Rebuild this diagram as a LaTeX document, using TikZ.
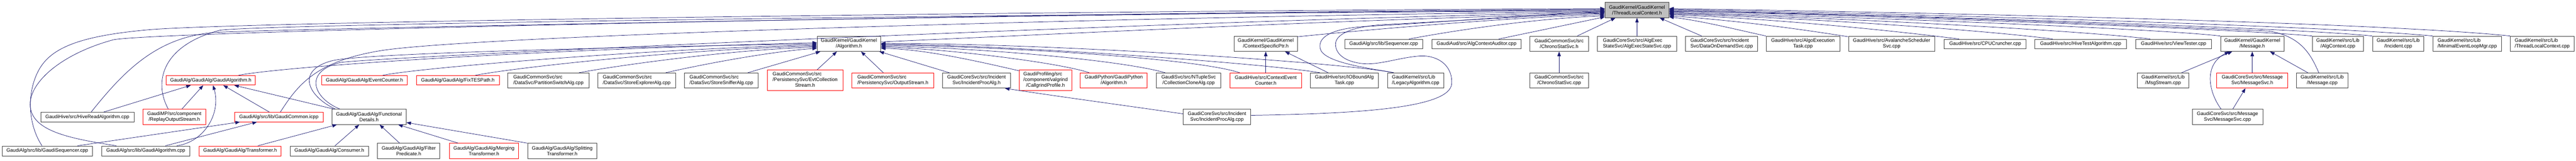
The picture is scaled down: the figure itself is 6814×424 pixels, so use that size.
\documentclass[tikz,border=0pt]{standalone}
\usepackage{fontspec}
\setmainfont{Liberation Sans}
\usetikzlibrary{arrows.meta}
\definecolor{edgecol}{HTML}{191970}
\definecolor{bordgray}{HTML}{404040}
\definecolor{rootfill}{HTML}{BFBFBF}
\definecolor{redb}{HTML}{FF0000}
\newcommand{\gfont}{\fontsize{13}{15}\selectfont}
\newcommand{\gnode}[7]{\node[#6, minimum width={(#4-#2)*1pt}, minimum height={(#5-#3)*1pt}, anchor=north west] (#1) at (#2,#3) {#7};}
\tikzset{
  gbox/.style={draw=bordgray, line width=1.2pt, fill=white, inner sep=0pt, font=\gfont, align=center},
  rbox/.style={gbox, draw=redb},
  lbox/.style={gbox, align=left},
  rlbox/.style={rbox, align=left},
  rootbox/.style={gbox, fill=rootfill},
  dep/.style={draw=edgecol, line width=1pt, -{Triangle[length=12pt,width=9pt]}},
}
\begin{document}
\begin{tikzpicture}[x=1pt,y=-1pt]
\useasboundingbox (0,0) rectangle (6814,424);
% root
\gnode{tlc}{4245}{6}{4414}{46}{rootbox}{GaudiKernel/GaudiKernel\\/ThreadLocalContext.h}
% row B
\gnode{algh}{2161}{95}{2329}{135}{gbox}{GaudiKernel/GaudiKernel\\/Algorithm.h}
\gnode{csp}{3264}{95}{3431}{135}{gbox}{GaudiKernel/GaudiKernel\\/ContextSpecificPtr.h}
\gnode{seq}{3557}{103}{3762}{128}{gbox}{GaudiAlg/src/lib/Sequencer.cpp}
\gnode{aca}{3787}{103}{4023}{128}{gbox}{GaudiAud/src/AlgContextAuditor.cpp}
\gnode{csvch}{4046}{95}{4201}{135}{gbox}{GaudiCommonSvc/src\\/ChronoStatSvc.h}
\gnode{aes}{4225}{95}{4434}{135}{lbox}{GaudiCoreSvc/src/AlgExec\\StateSvc/AlgExecStateSvc.cpp}
\gnode{dod}{4458}{95}{4649}{135}{lbox}{GaudiCoreSvc/src/Incident\\Svc/DataOnDemandSvc.cpp}
\gnode{aet}{4671}{95}{4866}{135}{gbox}{GaudiHive/src/AlgoExecution\\Task.cpp}
\gnode{avs}{4889}{95}{5117}{135}{gbox}{GaudiHive/src/AvalancheScheduler\\Svc.cpp}
\gnode{cpu}{5142}{103}{5359}{128}{gbox}{GaudiHive/src/CPUCruncher.cpp}
\gnode{hta}{5382}{103}{5624}{128}{gbox}{GaudiHive/src/HiveTestAlgorithm.cpp}
\gnode{vt}{5649}{103}{5849}{128}{gbox}{GaudiHive/src/ViewTester.cpp}
\gnode{msgh}{5873}{95}{6041}{135}{gbox}{GaudiKernel/GaudiKernel\\/Message.h}
\gnode{actx}{6116}{95}{6251}{135}{gbox}{GaudiKernel/src/Lib\\/AlgContext.cpp}
\gnode{inc}{6275}{95}{6411}{135}{gbox}{GaudiKernel/src/Lib\\/Incident.cpp}
\gnode{mel}{6435}{95}{6616}{135}{lbox}{GaudiKernel/src/Lib\\/MinimalEventLoopMgr.cpp}
\gnode{tlccpp}{6640}{95}{6808}{135}{lbox}{GaudiKernel/src/Lib\\/ThreadLocalContext.cpp}
% row C
\gnode{gah}{439}{199}{675}{224}{rbox}{GaudiAlg/GaudiAlg/GaudiAlgorithm.h}
\gnode{evc}{850}{199}{1077}{224}{rbox}{GaudiAlg/GaudiAlg/EventCounter.h}
\gnode{fix}{1101}{199}{1320}{224}{rbox}{GaudiAlg/GaudiAlg/FixTESPath.h}
\gnode{psw}{1343}{192}{1557}{232}{lbox}{GaudiCommonSvc/src\\/DataSvc/PartitionSwitchAlg.cpp}
\gnode{sexp}{1581}{192}{1786}{232}{lbox}{GaudiCommonSvc/src\\/DataSvc/StoreExplorerAlg.cpp}
\gnode{ssnf}{1810}{192}{2005}{232}{lbox}{GaudiCommonSvc/src\\/DataSvc/StoreSnifferAlg.cpp}
\gnode{ecs}{2029}{184}{2229}{239}{rbox}{\begin{tabular}{@{}l@{}}GaudiCommonSvc/src\\/PersistencySvc/EvtCollection\\\multicolumn{1}{@{}c@{}}{Stream.h}\end{tabular}}
\gnode{ops}{2253}{192}{2469}{232}{rlbox}{GaudiCommonSvc/src\\/PersistencySvc/OutputStream.h}
\gnode{ipah}{2493}{192}{2672}{232}{gbox}{GaudiCoreSvc/src/Incident\\Svc/IncidentProcAlg.h}
\gnode{cgp}{2696}{184}{2834}{239}{rbox}{\begin{tabular}{@{}l@{}}GaudiProfiling/src\\/component/valgrind\\\multicolumn{1}{@{}c@{}}{/CallgrindProfile.h}\end{tabular}}
\gnode{gpa}{2857}{192}{3034}{232}{rbox}{GaudiPython/GaudiPython\\/Algorithm.h}
\gnode{ccl}{3058}{192}{3229}{232}{gbox}{GaudiSvc/src/NTupleSvc\\/CollectionCloneAlg.cpp}
\gnode{cec}{3253}{192}{3442}{232}{rbox}{GaudiHive/src/ContextEvent\\Counter.h}
\gnode{iob}{3466}{192}{3645}{232}{gbox}{GaudiHive/src/IOBoundAlg\\Task.cpp}
\gnode{leg}{3670}{192}{3818}{232}{lbox}{GaudiKernel/src/Lib\\/LegacyAlgorithm.cpp}
\gnode{csvccpp}{4046}{192}{4201}{232}{gbox}{GaudiCommonSvc/src\\/ChronoStatSvc.cpp}
\gnode{mstr}{5653}{192}{5789}{232}{gbox}{GaudiKernel/src/Lib\\/MsgStream.cpp}
\gnode{msvch}{5863}{192}{6051}{232}{rbox}{GaudiCoreSvc/src/Message\\Svc/MessageSvc.h}
\gnode{mcpp}{6074}{192}{6210}{232}{gbox}{GaudiKernel/src/Lib\\/Message.cpp}
% row D
\gnode{hra}{107}{296}{354}{321}{gbox}{GaudiHive/src/HiveReadAlgorithm.cpp}
\gnode{ros}{377}{288}{544}{328}{rbox}{GaudiMP/src/component\\/ReplayOutputStream.h}
\gnode{gcicpp}{620}{296}{854}{321}{rbox}{GaudiAlg/src/lib/GaudiCommon.icpp}
\gnode{fd}{877}{288}{1074}{328}{gbox}{GaudiAlg/GaudiAlg/Functional\\Details.h}
\gnode{ipacpp}{3129}{288}{3308}{328}{gbox}{GaudiCoreSvc/src/Incident\\Svc/IncidentProcAlg.cpp}
\gnode{msvccpp}{5798}{288}{5985}{328}{gbox}{GaudiCoreSvc/src/Message\\Svc/MessageSvc.cpp}
% row E
\gnode{gseq}{5}{385}{244}{411}{gbox}{GaudiAlg/src/lib/GaudiSequencer.cpp}
\gnode{gacpp}{269}{385}{501}{411}{gbox}{GaudiAlg/src/lib/GaudiAlgorithm.cpp}
\gnode{trans}{526}{385}{743}{411}{rbox}{GaudiAlg/GaudiAlg/Transformer.h}
\gnode{cons}{767}{385}{974}{411}{gbox}{GaudiAlg/GaudiAlg/Consumer.h}
\gnode{filt}{998}{378}{1163}{418}{gbox}{GaudiAlg/GaudiAlg/Filter\\Predicate.h}
\gnode{merg}{1188}{378}{1371}{418}{rbox}{GaudiAlg/GaudiAlg/Merging\\Transformer.h}
\gnode{split}{1395}{378}{1578}{418}{gbox}{GaudiAlg/GaudiAlg/Splitting\\Transformer.h}

% ---- long edges from the left into the root
\draw[dep] ([xshift=-14pt]gseq.north) .. controls (75,330) and (70,250) .. (100,190) .. controls (130,130) and (200,95) .. (400,78) .. controls (700,55) and (3000,28) .. ([yshift=4pt]tlc.west);
\draw[dep] ([xshift=-78pt]gacpp.north) .. controls (180,365) and (75,345) .. (80,270) .. controls (85,210) and (170,140) .. (300,105) .. controls (430,80) and (3000,30) .. ([yshift=2pt]tlc.west);
\draw[dep] ([xshift=10pt]hra.north) .. controls (330,185) and (420,92) .. (581,85) .. controls (800,75) and (3000,32) .. (tlc.west);
\draw[dep] ([xshift=-16pt]ros.north) .. controls (405,215) and (430,120) .. (581,80) .. controls (700,62) and (3000,34) .. ([yshift=-2pt]tlc.west);
\draw[dep] ([xshift=4pt]gcicpp.north) .. controls (790,220) and (840,160) .. (1012,133) .. controls (1300,90) and (3200,40) .. ([yshift=-4pt]tlc.west);
\draw[dep] ([xshift=-77pt]fd.north) .. controls (830,260) and (800,190) .. (900,165) .. controls (1000,150) and (3200,50) .. ([yshift=-6pt]tlc.west);
% ---- into GaudiKernel/Algorithm.h from the left
\draw[dep] ([xshift=-89pt]fd.north) .. controls (815,255) and (780,185) .. (880,160) .. controls (980,137) and (1900,120) .. (algh.west);
\draw[dep] ([xshift=73pt]gah.north) .. controls (720,180) and (1300,135) .. ([yshift=3pt]algh.west);
\draw[dep] ([xshift=48pt]evc.north) .. controls (1100,180) and (1700,130) .. ([yshift=-3pt]algh.west);
\draw[dep] ([xshift=46pt]fix.north) .. controls (1350,180) and (1800,130) .. ([yshift=-6pt]algh.west);
\draw[dep] ([xshift=81pt]psw.north) .. controls (1650,170) and (1950,130) .. ([yshift=-9pt]algh.west);
\draw[dep] ([xshift=77pt]sexp.north) .. controls (1880,165) and (2050,135) .. ([yshift=-12pt]algh.west);
\draw[dep] ([xshift=70pt]ssnf.north) -- ([xshift=9pt]algh.south west);
\draw[dep] ([xshift=32pt]ecs.north) -- ([xshift=-32pt]algh.south);
\draw[dep] ([xshift=-25pt]ops.north) -- ([xshift=32pt]algh.south);
\draw[dep] ([xshift=-72pt]ipah.north) -- ([xshift=-4pt]algh.south east);
% ---- into Algorithm.h from the right
\draw[dep] ([yshift=-3pt]cgp.north west) .. controls (2600,165) and (2450,130) .. ([yshift=-12pt]algh.east);
\draw[dep] ([xshift=-65pt]gpa.north) .. controls (2800,165) and (2500,128) .. ([yshift=-9pt]algh.east);
\draw[dep] ([xshift=-62pt]ccl.north) .. controls (2950,155) and (2550,125) .. ([yshift=-6pt]algh.east);
\draw[dep] ([xshift=-69pt]cec.north) .. controls (3150,150) and (2600,122) .. ([yshift=-3pt]algh.east);
\draw[dep] ([xshift=-65pt]iob.north) .. controls (3350,168) and (2700,120) .. ([yshift=-1pt]algh.east);
\draw[dep] ([xshift=-58pt]leg.north) .. controls (3550,165) and (2800,115) .. ([yshift=1pt]algh.east);
\draw[dep] ([yshift=5pt]algh.east) .. controls (2800,90) and (3600,50) .. ([yshift=-9pt]tlc.west);
% ---- middle
\draw[dep] (cec.north) -- (csp.south);
\draw[dep] ([xshift=-43pt]iob.north) -- ([xshift=51pt]csp.south);
\draw[dep] ([yshift=-2pt]csp.north east) .. controls (3600,80) and (4000,45) .. ([yshift=-12pt]tlc.west);
\draw[dep] ([yshift=8pt]ipacpp.west) .. controls (2950,275) and (2800,255) .. ([xshift=75pt]ipah.south);
\draw[dep] ([yshift=4pt]ipacpp.east) .. controls (3600,300) and (3838,285) .. (3840,220) .. controls (3842,170) and (3800,145) .. (3755,148) .. controls (3700,152) and (3650,172) .. (3605,168) .. controls (3555,163) and (3530,140) .. (3533,113) .. controls (3537,88) and (3580,70) .. (3660,65) .. controls (3850,55) and (4100,40) .. ([yshift=-7pt]tlc.west);
\draw[dep] ([xshift=-58pt]leg.north) .. controls (3620,180) and (3500,165) .. (3492,128) .. controls (3485,95) and (3530,75) .. (3610,70) .. controls (3800,60) and (4100,35) .. ([yshift=-4pt]tlc.west);
\draw[dep] ([xshift=67pt]seq.north) .. controls (3850,80) and (4050,50) .. ([yshift=-15pt]tlc.west);
\draw[dep] ([xshift=59pt]aca.north) -- ([yshift=-18pt]tlc.west);
\draw[dep] ([xshift=48pt]csvch.north) -- ([xshift=-57pt]tlc.south);
\draw[dep] (csvccpp.north) -- (csvch.south);
\draw[dep] (aes.north) -- (tlc.south);
\draw[dep] ([xshift=-53pt]dod.north) -- ([xshift=60pt]tlc.south);
% ---- from the right into the root
\draw[dep] (aet.north west) .. controls (4580,75) and (4500,55) .. ([yshift=-18pt]tlc.east);
\draw[dep] ([yshift=-2pt]avs.north west) .. controls (4750,75) and (4600,55) .. ([yshift=-15pt]tlc.east);
\draw[dep] ([xshift=-69pt]cpu.north) .. controls (5000,80) and (4700,50) .. ([yshift=-12pt]tlc.east);
\draw[dep] ([xshift=-74pt]hta.north) .. controls (5250,80) and (4800,48) .. ([yshift=-10pt]tlc.east);
\draw[dep] ([xshift=-62pt]vt.north) .. controls (5500,80) and (4850,46) .. ([yshift=-8pt]tlc.east);
\draw[dep] (msgh.north west) .. controls (5700,75) and (4900,44) .. ([yshift=-6pt]tlc.east);
\draw[dep] ([xshift=-9pt]mcpp.north) .. controls (6115,150) and (6090,95) .. (6000,82) .. controls (5500,60) and (4900,35) .. ([yshift=-4pt]tlc.east);
\draw[dep] (actx.north west) .. controls (5900,75) and (4950,42) .. ([yshift=-2pt]tlc.east);
\draw[dep] (inc.north west) .. controls (6050,72) and (5000,40) .. (tlc.east);
\draw[dep] (mel.north west) .. controls (6150,68) and (5100,38) .. ([yshift=2pt]tlc.east);
\draw[dep] (tlccpp.north west) .. controls (6300,60) and (5200,35) .. ([yshift=4pt]tlc.east);
% ---- Message cluster
\draw[dep] ([xshift=49pt]mstr.north) -- ([xshift=-53pt]msgh.south);
\draw[dep] (msvch.north) -- (msgh.south);
\draw[dep] ([xshift=-38pt]mcpp.north) -- ([xshift=47pt]msgh.south);
\draw[dep] ([xshift=-17pt]msvccpp.north) .. controls (5840,240) and (5830,170) .. ([xshift=-61pt]msgh.south);
\draw[dep] ([xshift=14pt]msvccpp.north) -- ([xshift=-18pt]msvch.south);
% ---- left cluster short edges
\draw[dep] ([xshift=43pt]hra.north) -- ([xshift=-53pt]gah.south);
\draw[dep] ([xshift=20pt]ros.north) -- ([xshift=-20pt]gah.south);
\draw[dep] ([xshift=82pt]gacpp.north) .. controls (540,375) and (585,300) .. ([xshift=6pt]gah.south);
\draw[dep] ([xshift=-25pt]gcicpp.north) -- ([xshift=33pt]gah.south);
\draw[dep] ([xshift=-93pt]fd.north) -- ([xshift=62pt]gah.south);
\draw[dep] ([xshift=80pt]gseq.north) -- ([xshift=-103pt]gcicpp.south);
\draw[dep] ([xshift=52pt]gacpp.north) -- ([xshift=-58pt]gcicpp.south);
\draw[dep] ([xshift=47pt]trans.north) -- ([xshift=-85pt]fd.south);
\draw[dep] ([xshift=15pt]cons.north) -- ([xshift=-26pt]fd.south);
\draw[dep] ([xshift=-24pt]filt.north) -- ([xshift=28pt]fd.south);
\draw[dep] ([xshift=-68pt]merg.north) -- ([xshift=77pt]fd.south);
\draw[dep] (split.north west) -- ([yshift=-15pt]fd.east);
\end{tikzpicture}
\end{document}
